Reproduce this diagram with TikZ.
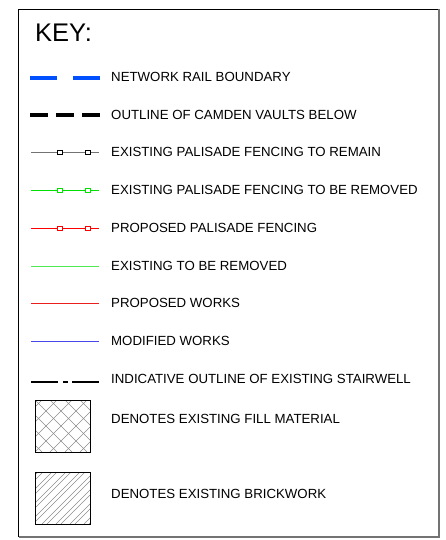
\documentclass[tikz,border=0pt]{standalone}
\usepackage{fontspec}
\setmainfont{Liberation Sans}
\definecolor{nrblue}{RGB}{0,80,255}
\definecolor{palgreen}{RGB}{0,225,0}
\definecolor{palred}{RGB}{255,0,0}
\definecolor{exgreen}{RGB}{80,235,80}
\definecolor{pwred}{RGB}{235,30,30}
\definecolor{mwblue}{RGB}{70,70,235}
\begin{document}
\begin{tikzpicture}[x=1pt,y=-1pt,
  lbl/.style={anchor=west, inner sep=0pt, font=\fontsize{13.25}{15}\selectfont, text height=9.4pt, text depth=0pt},
  keytitle/.style={anchor=west, inner sep=0pt, font=\fontsize{25.5}{29}\selectfont, text height=18pt, text depth=0pt},
  sqmark/.style={draw=#1, fill=white, line width=0.7pt, minimum size=4.5pt, inner sep=0pt, rectangle},
  hatchline/.style={draw=black!45, line width=0.5pt},
  boxframe/.style={draw=black, line width=0.8pt},
  thinline/.style={draw=#1, line width=1.3pt}
]
\useasboundingbox (0,0) rectangle (446,540);
% frame
\draw[black, line width=0.8pt] (439,9) -- (18.5,9) -- (18.5,537);
\draw[black!55, line width=1.8pt] (18.5,537) -- (439,537) -- (439,8.6);

\node[keytitle] (key) at (35,33) {KEY:};

% row 1 network rail boundary
\coordinate (a1) at (30,78); \coordinate (b1) at (100,78);
\draw[nrblue, line width=4pt, dash pattern=on 27pt off 16pt] (a1) -- (b1);
\node[lbl] (t1) at (111,77) {NETWORK RAIL BOUNDARY};

% row 2 vaults
\coordinate (a2) at (30,115); \coordinate (b2) at (100,115);
\draw[black, line width=4pt, dash pattern=on 17.5pt off 8.5pt] (a2) -- (b2);
\node[lbl] (t2) at (111,115) {OUTLINE OF CAMDEN VAULTS BELOW};

% row 3 palisade remain
\coordinate (a3) at (31,152.5); \coordinate (b3) at (99,152.5);
\draw[draw=black!55, line width=1.4pt] (a3) -- (b3);
\node[sqmark=black] (p3a) at (60,152.5) {};
\node[sqmark=black] (p3b) at (88,152.5) {};
\node[lbl] (t3) at (111,152) {EXISTING PALISADE FENCING TO REMAIN};

% row 4 palisade removed
\coordinate (a4) at (31,190.5); \coordinate (b4) at (99,190.5);
\draw[thinline=palgreen] (a4) -- (b4);
\node[sqmark=palgreen] (p4a) at (60,190.5) {};
\node[sqmark=palgreen] (p4b) at (88,190.5) {};
\node[lbl] (t4) at (111,190) {EXISTING PALISADE FENCING TO BE REMOVED};

% row 5 proposed palisade
\coordinate (a5) at (31,228.5); \coordinate (b5) at (99,228.5);
\draw[thinline=palred] (a5) -- (b5);
\node[sqmark=palred] (p5a) at (60,228.5) {};
\node[sqmark=palred] (p5b) at (88,228.5) {};
\node[lbl] (t5) at (111,228) {PROPOSED PALISADE FENCING};

% row 6
\coordinate (a6) at (31,266.5); \coordinate (b6) at (99,266.5);
\draw[thinline=exgreen] (a6) -- (b6);
\node[lbl] (t6) at (111,266) {EXISTING TO BE REMOVED};

% row 7
\coordinate (a7) at (31,303.5); \coordinate (b7) at (99,303.5);
\draw[thinline=pwred] (a7) -- (b7);
\node[lbl] (t7) at (111,303) {PROPOSED WORKS};

% row 8
\coordinate (a8) at (31,341.5); \coordinate (b8) at (99,341.5);
\draw[thinline=mwblue] (a8) -- (b8);
\node[lbl] (t8) at (111,341) {MODIFIED WORKS};

% row 9
\coordinate (a9) at (31,382); \coordinate (b9) at (99,382);
\draw[black, line width=2.5pt, dash pattern=on 27pt off 5pt on 5pt off 4pt] (a9) -- (b9);
\node[lbl] (t9) at (111,379) {INDICATIVE OUTLINE OF EXISTING STAIRWELL};

% fill material box
\begin{scope}
  \clip (35,400) rectangle (90,452);
  \foreach \x in {-40,-25,...,95} {
    \draw[hatchline] (\x,400) -- ({\x+52},452);
    \draw[hatchline] (\x,452) -- ({\x+52},400);
  }
\end{scope}
\draw[boxframe] (35,400) rectangle (90,452);
\node[lbl] (t10) at (111,419) {DENOTES EXISTING FILL MATERIAL};

% brickwork box
\begin{scope}
  \clip (35,472) rectangle (90,524);
  \foreach \x in {-56,-42,...,95} {
    \draw[hatchline] (\x,524) -- ({\x+52},472);
    \draw[hatchline] ({\x+5},524) -- ({\x+57},472);
  }
\end{scope}
\draw[boxframe] (35,472) rectangle (90,524);
\node[lbl] (t11) at (111,494) {DENOTES EXISTING BRICKWORK};
\end{tikzpicture}
\end{document}
